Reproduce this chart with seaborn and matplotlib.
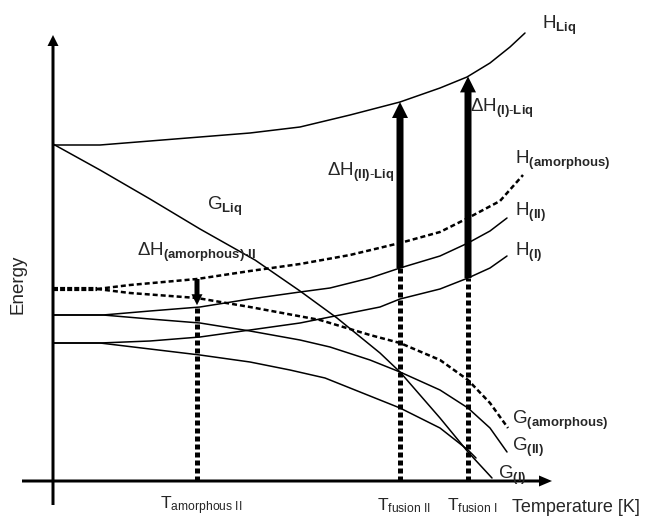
import numpy as np
import matplotlib
matplotlib.use("Agg")
import matplotlib.pyplot as plt
import seaborn as sns

# Temperature / energy in arbitrary units (origin at the axes crossing)
H_liq_T = [0, 47, 97, 147, 197, 247, 297, 347, 387, 414, 437, 457, 472]
H_liq_E = [336, 336, 340, 344, 348, 354, 366, 379, 393, 404, 418, 434, 448]

G_liq_T = [0, 47, 97, 147, 202, 247, 284, 327, 347, 387, 415, 439]
G_liq_E = [337, 311, 282, 252, 221, 190, 163, 128, 109, 63, 29, 3]

plateau_T = [0, 44]
plateau_E = [192, 192]

H_am_T = [44, 77, 144, 197, 247, 297, 347, 387, 415, 447, 470]
H_am_E = [192, 196, 202, 210, 217, 226, 238, 249, 263, 280, 306]

G_am_T = [44, 77, 144, 197, 267, 317, 347, 387, 415, 437, 455]
G_am_E = [192, 188, 183, 174, 161, 146, 138, 121, 101, 78, 53]

H_II_T = [0, 50, 97, 147, 197, 247, 277, 317, 347, 387, 415, 437, 454]
H_II_E = [166, 166, 170, 174, 182, 189, 193, 203, 213, 225, 238, 250, 263]

G_II_T = [0, 50, 97, 147, 197, 247, 277, 317, 347, 387, 415, 437, 454]
G_II_E = [166, 166, 162, 158, 150, 141, 134, 121, 109, 91, 73, 53, 29]

H_I_T = [0, 47, 97, 147, 197, 247, 287, 327, 347, 387, 415, 437, 454]
H_I_E = [138, 138, 140, 144, 151, 158, 166, 174, 182, 192, 203, 213, 225]

G_I_T = [0, 47, 97, 147, 197, 237, 272, 317, 347, 387, 415, 423]
G_I_E = [138, 138, 132, 126, 119, 111, 103, 85, 73, 53, 31, 23]

T_am, T_fus_II, T_fus_I = 144, 347, 415
T_ticks = [T_am, T_fus_II, T_fus_I]
T_tick_labels = [r"T$_{\rm amorphous\ II}$", r"T$_{\rm fusion\ II}$", r"T$_{\rm fusion\ I}$"]

sns.set_theme(style="white")
plt.rcParams["font.family"] = ["Liberation Sans", "DejaVu Sans"]
plt.rcParams["mathtext.fontset"] = "custom"
plt.rcParams["mathtext.rm"] = "Liberation Sans"
plt.rcParams["mathtext.it"] = "Liberation Sans:italic"
plt.rcParams["mathtext.bf"] = "Liberation Sans:bold"

fig = plt.figure(figsize=(6.49, 5.19), dpi=100)
ax = fig.add_axes([0, 0, 1, 1])
ax.set_xlim(-53, 596)
ax.set_ylim(-38, 481)
ax.set_axis_off()

thin = dict(color="black", lw=1.1, estimator=None, sort=False, ax=ax)
for T, E in [(H_liq_T, H_liq_E), (G_liq_T, G_liq_E), (H_II_T, H_II_E),
             (G_II_T, G_II_E), (H_I_T, H_I_E), (G_I_T, G_I_E)]:
    sns.lineplot(x=T, y=E, **thin)

for T, E in [(H_am_T, H_am_E), (G_am_T, G_am_E)]:
    sns.lineplot(x=T, y=E, color="black", lw=1.8, linestyle=(0, (2.0, 1.2)),
                 estimator=None, sort=False, ax=ax)
sns.lineplot(x=plateau_T, y=plateau_E, color="black", lw=3.0,
             linestyle=(0, (1.2, 0.5)), estimator=None, sort=False, ax=ax)

# vertical guides from the temperature axis to the solid-phase enthalpy
top_am = np.interp(T_am, H_II_T, H_II_E) + 2
top_II = np.interp(T_fus_II, H_II_T, H_II_E)
top_I = np.interp(T_fus_I, H_I_T, H_I_E)
for T, top in [(T_am, top_am), (T_fus_II, top_II), (T_fus_I, top_I)]:
    ax.plot([T, T], [0, top], color="black", lw=3.6,
            linestyle=(0, (1.0, 0.6)), solid_capstyle="butt")

# enthalpy of fusion arrows
for T, lo_T, lo_E in [(T_fus_II, H_II_T, H_II_E), (T_fus_I, H_I_T, H_I_E)]:
    y0 = np.interp(T, lo_T, lo_E)
    y1 = np.interp(T, H_liq_T, H_liq_E)
    ax.arrow(T, y0, 0, y1 - y0, width=7, head_width=16, head_length=16,
             length_includes_head=True, fc="black", ec="black", lw=0)

# amorphous -> form II enthalpy drop
y0 = np.interp(T_am, H_am_T, H_am_E)
ax.arrow(T_am, y0, 0, top_am - y0, width=5, head_width=11, head_length=11,
         length_includes_head=True, fc="black", ec="black", lw=0)

# coordinate axes with arrow heads
ax.arrow(0, -24, 0, 470, width=3, head_width=11, head_length=11,
         length_includes_head=True, fc="black", ec="black", lw=0)
ax.arrow(-31, 0, 530, 0, width=3, head_width=11, head_length=13,
         length_includes_head=True, fc="black", ec="black", lw=0)

fs = 13.5
labels = [
    (489, 456, r"H$_{\mathbf{Liq}}$"),
    (417, 373, r"$\Delta$H$_{\mathbf{(I)\text{-}Liq}}$"),
    (462, 321, r"H$_{\mathbf{(amorphous)}}$"),
    (274, 309, r"$\Delta$H$_{\mathbf{(II)\text{-}Liq}}$"),
    (462, 269, r"H$_{\mathbf{(II)}}$"),
    (462, 229, r"H$_{\mathbf{(I)}}$"),
    (154, 275, r"G$_{\mathbf{Liq}}$"),
    (84, 229, r"$\Delta$H$_{\mathbf{(amorphous)\text{-}II}}$"),
    (459, 61, r"G$_{\mathbf{(amorphous)}}$"),
    (459, 34, r"G$_{\mathbf{(II)}}$"),
    (445, 6, r"G$_{\mathbf{(I)}}$"),
]
for x, y, s in labels:
    ax.text(x, y, s, fontsize=fs, ha="left", va="center")

for T, s in zip(T_ticks, T_tick_labels):
    ax.text(T + 4, -25, s, fontsize=12.5, ha="center", va="center")

ax.text(459, -27, "Temperature [K]", fontsize=13, ha="left", va="center")
ax.text(-35, 197, "Energy", fontsize=13.5, rotation=90, ha="center", va="center")

fig.savefig("out.png", dpi=100)
